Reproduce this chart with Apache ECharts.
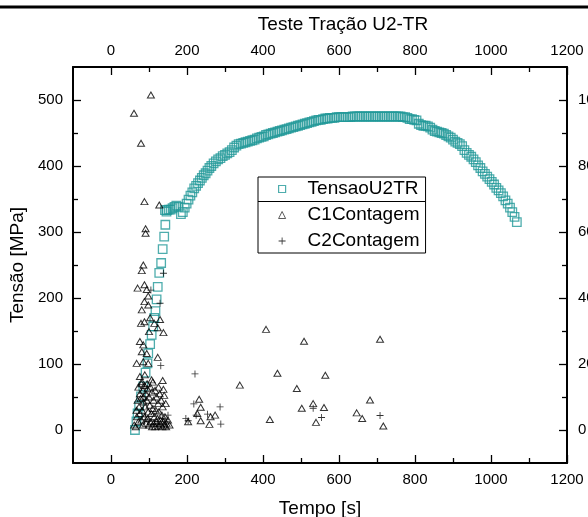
<!DOCTYPE html>
<html>
<head>
<meta charset="utf-8">
<script src="https://cdn.jsdelivr.net/npm/echarts@6/dist/echarts.min.js"></script>
<style>html,body{margin:0;padding:0;background:#fff}#c{width:588px;height:517px}</style>
</head>
<body>
<div id="c"></div>
<script>
var titleText = 'Teste Tração U2-TR';
var xName = 'Tempo [s]';
var yName = 'Tensão [MPa]';
var seriesNames = ['TensaoU2TR', 'C1Contagem', 'C2Contagem'];
var xTicks = [0, 200, 400, 600, 800, 1000, 1200];
var xMinor = [100, 300, 500, 700, 900, 1100];
var yTicks = [0, 100, 200, 300, 400, 500];
var yMinor = [50, 150, 250, 350, 450];
var y2Ticks = [0, 20, 40, 60, 80, 100];
var y2Minor = [10, 30, 50, 70, 90];

// [Tempo s, Tensão MPa]
var tensao = [
[63,0],[67,13],[70,25],[74,36],[79,51],[85,66],[91,87],[96,101],[98,116],[103,130],[107,144],[111,157],[114,170],[117,180],[120,198],[123,217],[127,238],[132,253],[136,274],[140,293],[143,311],[146,331],
[142,333],[147,333],[152,334],[157,334],[162,336],[167,338],[172,340],[178,338],[184,327],[189,330],[194,337],[199,343],[204,349],[209,355],[214,360],[219,366],[224,370],[229,374],[234,378],[239,382],[244,386],[249,389],[254,393],[259,397],[264,400],[270,404],[276,407],[282,410],[288,412],[294,415],[300,417],[306,419],[312,421],[318,424],[324,428],[330,431],[336,433],[342,434],[348,435],[354,436],[360,437],[366,438],[372,439],[378,440],[384,442],[390,443],[396,444],[402,445],[408,447],[414,448],[420,449],[426,450],[432,451],[438,452],[444,453],[450,454],[456,455],[462,456],[468,457],[474,458],[480,459],[486,460],[492,461],[498,462],[504,463],[510,464],[516,465],[522,466],[528,467],[534,468],[540,469],[546,470],[552,470],[558,471],[564,472],[570,472],[576,473],[582,473],[588,473],[594,474],[600,474],[606,474],[612,474],[618,474],[624,474],[630,474],[636,475],[642,475],[648,475],[654,475],[660,475],[666,475],[672,475],[678,475],[684,475],[690,475],[696,475],[702,475],[708,475],[714,475],[720,475],[726,475],[732,475],[738,475],[744,475],[750,475],[756,475],[762,475],[768,474],[774,474],[780,473],[786,471],[792,471],[798,470],[804,469],[810,464],[816,462],[822,461],[828,461],[834,460],[840,458],[846,455],[852,453],[858,452],[864,451],[870,450],[876,449],[882,447],[888,445],[894,443],[900,440],[906,437],[912,435],[918,433],[924,430],[930,424],[936,420],[942,417],[948,414],[954,410],[960,406],[966,401],[972,397],[978,392],[984,388],[990,384],[996,380],[1002,376],[1008,372],[1014,367],[1020,363],[1026,359],[1032,354],[1038,348],[1044,343],[1050,337],[1056,330],[1062,323],[1068,315]
];

// [Tempo s, contagem] (right axis)
var c1 = [
[105,101.5],[60.5,96],[79,86.9],[88,69.2],[127,68.2],[91,61],[91,59.6],[85,50],[81,48.3],[70,43],[88,44],[94,42.6],[98,40.6],[88,38.9],[98,37.9],[81,36.4],[103,34],[129,33.5],[79,32.3],[88,32.8],[114,32.3],[123,31],[100,29.8],[138,29.5],[76,26.8],[85,25.8],[81,23.7],[94,23.2],[123,22],[67.5,20.2],[85,20.7],[98,20.2],[76,16.2],[89,16.7],[107,15.2],[136,15],[81,14.6],[138,12.3],
[72,13],[76,11],[80,14],[84,12],[88,13.5],[92,11],[96,12.5],[100,10],[104,13],[108,11.5],[112,9],[116,12],[120,10],[124,8],[128,11],[132,9],[136,7],[140,10.5],[144,8],[70,9],[74,7],[78,9.5],[82,6],[86,8.5],[90,7],[94,9],[98,5.5],[102,7.5],[106,5],[110,6.5],[114,4],[118,6],[122,3.5],[126,5.5],[130,3],[134,4.5],[138,2.5],[142,4],[146,2],[150,3],[154,1.5],[68,4],[72,2.5],[76,5],[80,3],[84,1.5],[88,4],[92,2],[96,3.5],[100,1.5],[104,2.5],[108,1],[112,2],[116,1],[120,2.5],[125,1.2],[130,1.8],[135,1],[140,1.5],[145,1],[65,1],[67,6],[85,10],[95,14],[110,14.5],[125,13],[61,1.5],
[408,30.5],[508,26.9],[708,27.5],[438,17.2],[564,16.6],[339,13.6],[489,12.6],[681.6,9.1],[232,9.3],[236,6.9],[274,4.5],[262,4],[227,5],[203,2.5],[236,2.8],[259,1.7],[418,3.2],[502,6.6],[532,8],[560.5,6.8],[539.5,2.3],[646.5,5.2],[661,3.5],[716.6,1.2]
];
var c2 = [
[138,47.5],[105,42.4],[129,38.4],[131,19.5],[100,3],[115,2],[124,1],[135,3.5],[145,2.5],[90,4],[150,4.5],
[221,17],[218,7.9],[224,4.5],[197,3.5],[203,2.8],[254,4.8],[287,7],[289,1.8],[532,6.6],[554,3.8],[708,4.4]
];

var FONT = '"Liberation Sans", Arial, Helvetica, sans-serif';
var teal = '#229898';
var plusPath = 'path://M4.4,0H5.6V4.4H10V5.6H5.6V10H4.4V5.6H0V4.4H4.4Z';
function plain(v) { return String(v); }

function mainX(pos, withName) {
  var a = {
    type: 'value', min: -100, max: 1200, position: pos,
    axisLine: { show: true, onZero: false, lineStyle: { color: '#000', width: 2 } },
    axisTick: { show: true, inside: true, length: 8, customValues: xTicks, lineStyle: { color: '#000', width: 1.3 } },
    axisLabel: { show: true, customValues: xTicks, formatter: plain, margin: 9, fontSize: 15, color: '#000', fontFamily: FONT },
    splitLine: { show: false }
  };
  if (withName) {
    a.name = xName; a.nameLocation = 'middle'; a.nameGap = 36;
    a.nameTextStyle = { fontSize: 19, color: '#000', fontFamily: FONT };
  }
  return a;
}
function minorX(pos) {
  return {
    type: 'value', min: -100, max: 1200, position: pos,
    axisLine: { show: false, onZero: false },
    axisTick: { show: true, inside: true, length: 5, customValues: xMinor, lineStyle: { color: '#000', width: 1.3 } },
    axisLabel: { show: false }, splitLine: { show: false }
  };
}

var chart = echarts.init(document.getElementById('c'), null, { renderer: 'canvas' });
chart.setOption({
  animation: false,
  backgroundColor: '#fff',
  title: {
    text: titleText, left: 338, top: 10, textAlign: 'center',
    textStyle: { fontSize: 19, fontWeight: 'normal', color: '#000', fontFamily: FONT }
  },
  grid: { left: 73, right: 21, top: 67, bottom: 54, containLabel: false, outerBoundsMode: 'none' },
  xAxis: [mainX('bottom', true), mainX('top', false), minorX('bottom'), minorX('top')],
  yAxis: [
    {
      type: 'value', min: -50, max: 550, position: 'left',
      name: yName, nameLocation: 'middle', nameGap: 44,
      nameTextStyle: { fontSize: 19, color: '#000', fontFamily: FONT },
      axisLine: { show: true, onZero: false, lineStyle: { color: '#000', width: 2 } },
      axisTick: { show: true, inside: true, length: 8, customValues: yTicks, lineStyle: { color: '#000', width: 1.3 } },
      axisLabel: { show: true, customValues: yTicks, formatter: plain, margin: 10, fontSize: 15, color: '#000', fontFamily: FONT },
      splitLine: { show: false }
    },
    {
      type: 'value', min: -10, max: 110, position: 'right',
      axisLine: { show: true, onZero: false, lineStyle: { color: '#000', width: 2 } },
      axisTick: { show: true, inside: true, length: 8, customValues: y2Ticks, lineStyle: { color: '#000', width: 1.3 } },
      axisLabel: { show: true, customValues: y2Ticks, formatter: plain, margin: 11, fontSize: 15, color: '#000', fontFamily: FONT },
      splitLine: { show: false }
    },
    {
      type: 'value', min: -50, max: 550, position: 'left',
      axisLine: { show: false, onZero: false },
      axisTick: { show: true, inside: true, length: 5, customValues: yMinor, lineStyle: { color: '#000', width: 1.3 } },
      axisLabel: { show: false }, splitLine: { show: false }
    },
    {
      type: 'value', min: -10, max: 110, position: 'right',
      axisLine: { show: false, onZero: false },
      axisTick: { show: true, inside: true, length: 5, customValues: y2Minor, lineStyle: { color: '#000', width: 1.3 } },
      axisLabel: { show: false }, splitLine: { show: false }
    }
  ],
  legend: {
    orient: 'vertical', left: 258, top: 177,
    padding: [0, 6, 0, 20], itemGap: 2, itemWidth: 7, itemHeight: 7,
    borderColor: '#000', borderWidth: 1, backgroundColor: '#fff',
    textStyle: { fontSize: 19, color: '#000', fontFamily: FONT, lineHeight: 24, padding: [0, 0, 0, 17] },
    data: [
      { name: seriesNames[0], icon: 'rect', itemStyle: { color: 'rgba(255,255,255,0)', borderColor: teal, borderWidth: 1.2 } },
      { name: seriesNames[1], icon: 'triangle', itemStyle: { color: 'rgba(255,255,255,0)', borderColor: '#000', borderWidth: 0.8 } },
      { name: seriesNames[2], icon: plusPath }
    ]
  },
  graphic: [
    { type: 'line', shape: { x1: 0, y1: 7, x2: 588, y2: 7 }, style: { stroke: '#000', lineWidth: 3 }, z: 10 },
    { type: 'line', shape: { x1: 258, y1: 201.5, x2: 425, y2: 201.5 }, style: { stroke: '#000', lineWidth: 1 }, z: 10 }
  ],
  series: [
    {
      name: seriesNames[0], type: 'scatter', xAxisIndex: 0, yAxisIndex: 0,
      symbol: 'rect', symbolSize: 8.5, data: tensao,
      itemStyle: { color: 'rgba(255,255,255,0)', borderColor: teal, borderWidth: 1.3 }
    },
    {
      name: seriesNames[1], type: 'scatter', xAxisIndex: 0, yAxisIndex: 1,
      symbol: 'triangle', symbolSize: [7, 6], data: c1,
      itemStyle: { color: 'rgba(255,255,255,0)', borderColor: '#000', borderWidth: 1 }
    },
    {
      name: seriesNames[2], type: 'scatter', xAxisIndex: 0, yAxisIndex: 1,
      symbol: plusPath, symbolSize: 7, data: c2,
      itemStyle: { color: '#000', borderWidth: 0 }
    }
  ]
});
</script>
</body>
</html>
